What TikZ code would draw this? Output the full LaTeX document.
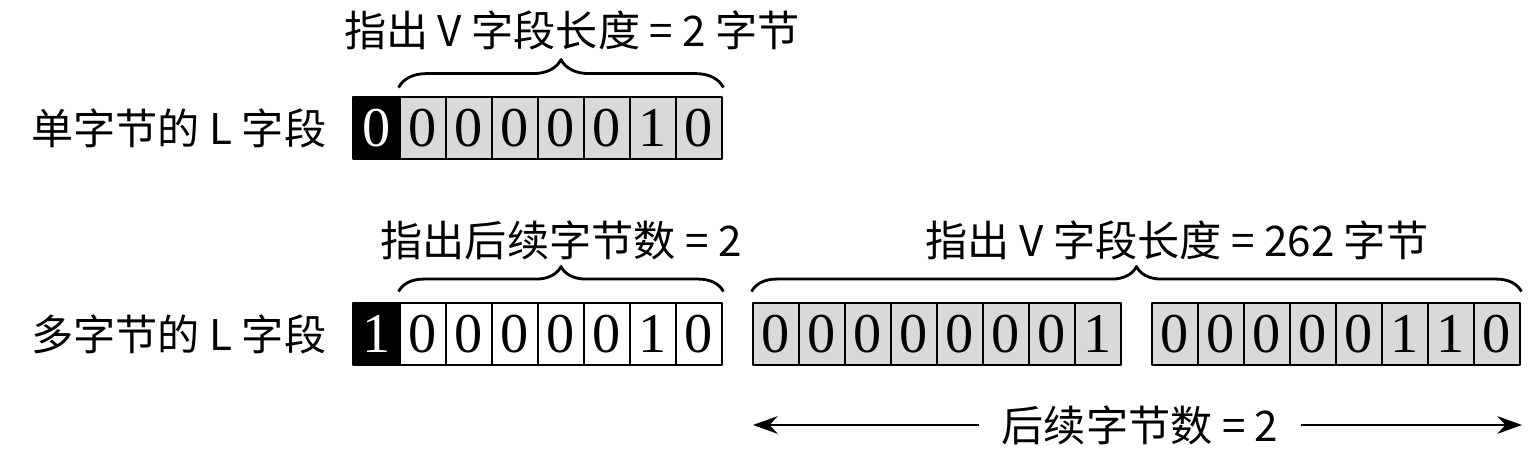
\documentclass[tikz,border=0pt]{standalone}
\usepackage{fontspec}
\setmainfont{Liberation Serif}
\newfontfamily\cjk{Noto Sans CJK SC}
\usetikzlibrary{decorations.pathreplacing,arrows.meta}
\definecolor{cellgray}{gray}{0.85}
\begin{document}
\begin{tikzpicture}[line join=round,>={Stealth[length=7pt,width=5pt]},
	cell/.style={draw,line width=0.8pt,minimum width=0.46cm,minimum height=0.62cm,inner sep=0pt,font=\fontsize{16}{16}\selectfont},
	graycell/.style={cell,fill=cellgray},
	whitecell/.style={cell,fill=white},
	flagcell/.style={cell,fill=black,text=white,minimum width=0.47cm},
	lbl/.style={font=\cjk\fontsize{12}{14}\selectfont,inner sep=0pt},
	brc/.style={decorate,decoration={brace,amplitude=0.28cm},line width=0.8pt}]
	\useasboundingbox (0,0) rectangle (15.4,4.68);
	% single byte L field
	\node[lbl,anchor=east] (row1) at (3.27,3.40) {单字节的 L 字段};
	\node[flagcell] (s0) at (3.765,3.40) {0};
	\foreach \b [count=\k] in {0,0,0,0,0,1,0}{
		\node[graycell] (s\k) at ({3.77+0.46*\k},3.40) {\b};}
	\draw[brc] ([yshift=0.08cm]s1.north west)--([yshift=0.08cm]s7.north east);
	\node[lbl] (t1) at (5.72,4.38) {指出 V 字段长度 = 2 字节};
	% multi byte L field
	\node[lbl,anchor=east] (row2) at (3.27,1.34) {多字节的 L 字段};
	\node[flagcell] (m0) at (3.765,1.34) {1};
	\foreach \b [count=\k] in {0,0,0,0,0,1,0}{
		\node[whitecell] (m\k) at ({3.77+0.46*\k},1.34) {\b};}
	\foreach \b [count=\k] in {0,0,0,0,0,0,0,1}{
		\node[graycell] (h\k) at ({7.30+0.46*\k},1.34) {\b};}
	\foreach \b [count=\k] in {0,0,0,0,0,1,1,0}{
		\node[graycell] (l\k) at ({11.29+0.46*\k},1.34) {\b};}
	\draw[brc,decoration={amplitude=0.25cm}] ([yshift=0.1cm]m1.north west)--([yshift=0.1cm]m7.north east);
	\draw[brc,decoration={amplitude=0.25cm}] ([yshift=0.1cm]h1.north west)--([yshift=0.1cm]l8.north east);
	\node[lbl] (t2) at (5.61,2.28) {指出后续字节数 = 2};
	\node[lbl] (t3) at (11.77,2.28) {指出 V 字段长度 = 262 字节};
	% count arrow
	\node[lbl,inner xsep=0.22cm] (cnt) at (11.40,0.43) {后续字节数 = 2};
	\coordinate (la) at (7.53,0.43);
	\coordinate (ra) at (15.22,0.43);
	\draw[->,line width=0.8pt] (cnt)--(la);
	\draw[->,line width=0.8pt] (cnt)--(ra);
\end{tikzpicture}
\end{document}
